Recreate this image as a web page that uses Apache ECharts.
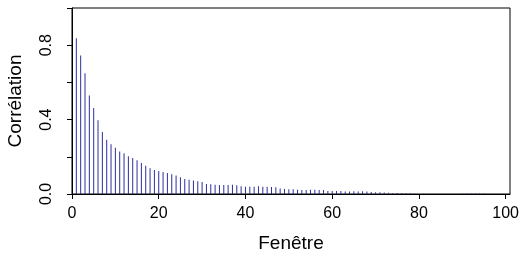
<!DOCTYPE html>
<html>
<head>
<meta charset="utf-8">
<script src="https://cdn.jsdelivr.net/npm/echarts@6/dist/echarts.min.js"></script>
<style>
  html, body { margin: 0; padding: 0; background: #fff; }
  #chart { width: 528px; height: 256px; }
</style>
</head>
<body>
<div id="chart"></div>
<script>
// fenêtres (lags) et corrélations
const lags = []
for (let i = 1; i <= 95; i++) lags.push(i)
const correlations = [
  0.837, 0.744, 0.649, 0.529, 0.462, 0.396, 0.333, 0.292, 0.267, 0.249,
  0.229, 0.219, 0.203, 0.194, 0.181, 0.167, 0.152, 0.138, 0.129, 0.124,
  0.118, 0.113, 0.106, 0.100, 0.090, 0.081, 0.077, 0.072, 0.068, 0.065,
  0.054, 0.052, 0.050, 0.048, 0.048, 0.048, 0.050, 0.047, 0.041, 0.039,
  0.039, 0.039, 0.041, 0.039, 0.039, 0.038, 0.036, 0.030, 0.027, 0.025,
  0.025, 0.023, 0.022, 0.022, 0.023, 0.023, 0.022, 0.022, 0.016, 0.016,
  0.016, 0.016, 0.014, 0.014, 0.015, 0.014, 0.015, 0.013, 0.011, 0.010,
  0.009, 0.008, 0.007, 0.006, 0.005, 0.005, 0.004, 0.004, 0.002, 0,
  0, 0, 0, 0, 0, 0, 0, 0, 0, 0.003,
  0.003, 0.003, 0.003, 0.003, 0.003
]
const xTicks = [0, 20, 40, 60, 80, 100]
const yLabels = ['0.0', '0.4', '0.8']

const font = 'Liberation Sans, Arial, sans-serif'
const seriesData = lags.map((l, i) => [l, correlations[i]])

let myChart = echarts.init(document.getElementById('chart'))
myChart.setOption({
  animation: false,
  grid: {
    left: 72,
    right: 18,
    top: 8,
    bottom: 62,
    outerBoundsMode: 'none',
    show: true,
    borderColor: '#000',
    borderWidth: 1
  },
  xAxis: {
    type: 'value',
    min: 0,
    max: 101,
    interval: 20,
    name: 'Fenêtre',
    nameLocation: 'middle',
    nameGap: 40,
    nameTextStyle: { fontFamily: font, fontSize: 19, color: '#000' },
    axisLine: { show: true, lineStyle: { color: '#000', width: 1 } },
    axisTick: {
      show: true, length: 5, lineStyle: { color: '#000' },
      customValues: xTicks
    },
    axisLabel: {
      fontFamily: font, fontSize: 16, color: '#000', margin: 12,
      customValues: xTicks,
      showMaxLabel: true
    },
    splitLine: { show: false }
  },
  yAxis: {
    type: 'value',
    min: 0,
    max: 1,
    interval: 0.2,
    name: 'Corrélation',
    nameLocation: 'middle',
    nameRotate: 90,
    nameGap: 47,
    nameTextStyle: { fontFamily: font, fontSize: 19, color: '#000' },
    axisLine: { show: true, lineStyle: { color: '#000', width: 1 } },
    axisTick: { show: true, length: 5, lineStyle: { color: '#000' } },
    axisLabel: {
      fontFamily: font, fontSize: 16, color: '#000', margin: 17,
      rotate: 90,
      formatter: v => yLabels.indexOf(v.toFixed(1)) >= 0 ? v.toFixed(1) : ''
    },
    splitLine: { show: false }
  },
  series: [{
    type: 'bar',
    data: seriesData,
    barWidth: 1,
    itemStyle: { color: '#2e2e9e' }
  }]
})
</script>
</body>
</html>
